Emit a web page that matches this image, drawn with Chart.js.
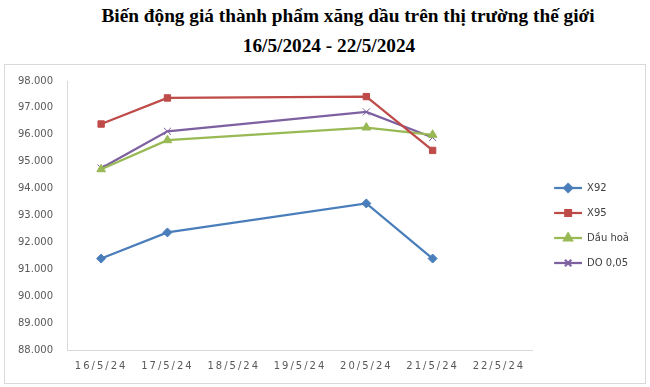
<!DOCTYPE html>
<html>
<head>
<meta charset="utf-8">
<script src="https://cdn.jsdelivr.net/npm/chart.js@4/dist/chart.umd.min.js"></script>
<style>
    html, body { margin: 0; padding: 0; background: #fff; }
    #wrap { position: relative; width: 650px; height: 387px; }
    #frame { position: absolute; left: 4px; top: 64px; width: 640px; height: 318px; border: 1px solid #d9d9d9; }
    .title { position: absolute; left: 0; width: 650px; font-family: "Liberation Serif", serif; font-weight: bold;
             font-size: 19.3px; color: #000; white-space: nowrap; line-height: 1; }
    #t1 { top: 6px; text-align: center; padding-left: 46px; box-sizing: border-box; }
    #t2 { top: 36px; text-align: center; padding-left: 8px; box-sizing: border-box; }
    canvas { position: absolute; left: 0; top: 0; }
</style>
</head>
<body>
<div id="wrap">
    <div id="frame"></div>
    <div class="title" id="t1">Biến động giá thành phẩm xăng dầu trên thị trường thế giới</div>
    <div class="title" id="t2">16/5/2024 - 22/5/2024</div>
    <canvas id="chart" width="650" height="387"></canvas>
</div>
<script>
// Dữ liệu
const days = ['16/5/24', '17/5/24', '18/5/24', '19/5/24', '20/5/24', '21/5/24', '22/5/24'];
const x92   = [91.40, 92.37, null, null, 93.45, 91.40, null];
const x95   = [96.40, 97.37, null, null, 97.42, 95.42, null];
const dauHoa = [94.72, 95.80, null, null, 96.27, 96.00, null];
const do005 = [94.76, 96.13, null, null, 96.85, 95.90, null];
const yMin = 88, yMax = 98, yStep = 1;

const FONT = '"DejaVu Sans", sans-serif';
const TICK_COLOR = '#595959';

// mẫu chú thích: đoạn thẳng + điểm đánh dấu (có lề trái trong suốt)
function legendIcon(color, style, r) {
    const c = document.createElement('canvas');
    c.width = 35; c.height = 12;
    const ctx = c.getContext('2d');
    ctx.strokeStyle = color;
    ctx.fillStyle = color;
    ctx.lineWidth = 2.25;
    ctx.beginPath();
    ctx.moveTo(7, 6); ctx.lineTo(35, 6);
    ctx.stroke();
    Chart.helpers.drawPoint(ctx, { pointStyle: style, radius: r, borderWidth: 1 }, 21, 6);
    return c;
}

const series = [
    { label: 'X92',     data: x92,    color: '#4a7ebb', style: 'rectRot',  r: 4.5 },
    { label: 'X95',     data: x95,    color: '#be4b48', style: 'rect',     r: 4.5 },
    { label: 'Dầu hoả', data: dauHoa, color: '#98b954', style: 'triangle', r: 5 },
    { label: 'DO 0,05', data: do005,  color: '#7d60a0', style: 'crossRot', r: 5 }
];

// nhãn trục x hơi giãn chữ như bản gốc; chú thích nhích lên vài px
const tweaks = {
    id: 'tweaks',
    afterLayout(chart) {
        const lg = chart.legend;
        if (lg && !lg._moved) {
            lg.top -= 6;
            lg.bottom -= 6;
            lg._moved = true;
        }
        const s = chart.scales.x;
        if (s._spaced) return;
        const orig = s.drawLabels.bind(s);
        s.drawLabels = function (area) {
            const ctx = this.ctx;
            const prev = ctx.letterSpacing;
            ctx.letterSpacing = '2px';
            orig(area);
            ctx.letterSpacing = prev;
        };
        s._spaced = true;
    }
};

new Chart(document.getElementById('chart'), {
    type: 'line',
    data: {
        labels: days,
        datasets: series.map(s => ({
            label: s.label,
            data: s.data,
            borderColor: s.color,
            backgroundColor: s.color,
            borderWidth: 2.25,
            pointStyle: s.style,
            pointRadius: s.r,
            pointBorderWidth: 1,
            pointBorderColor: s.color,
            pointBackgroundColor: s.color,
            spanGaps: true,
            tension: 0
        }))
    },
    options: {
        responsive: false,
        animation: false,
        layout: { padding: { left: 3, top: 81, right: 11, bottom: 5 } },
        plugins: {
            legend: {
                position: 'right',
                labels: {
                    color: '#404040',
                    font: { family: FONT, size: 10 },
                    usePointStyle: true,
                    pointStyleWidth: 35,
                    padding: 15,
                    generateLabels(chart) {
                        return series.map((s, i) => ({
                            text: s.label,
                            datasetIndex: i,
                            pointStyle: legendIcon(s.color, s.style, s.r - 0.5),
                            fillStyle: s.color,
                            strokeStyle: s.color,
                            lineWidth: 0,
                            fontColor: '#404040'
                        }));
                    }
                }
            },
            tooltip: { enabled: false }
        },
        scales: {
            x: {
                offset: true,
                grid: { display: false, drawTicks: false },
                border: { display: true, color: '#d9d9d9', width: 1 },
                ticks: { color: TICK_COLOR, font: { family: FONT, size: 10 }, padding: 10, maxRotation: 0, autoSkip: false }
            },
            y: {
                min: yMin, max: yMax,
                grid: { display: false, drawTicks: false },
                border: { display: true, color: '#d9d9d9', width: 1 },
                ticks: {
                    stepSize: yStep,
                    color: TICK_COLOR,
                    font: { family: FONT, size: 10 },
                    padding: 15,
                    callback: v => v.toFixed(3)
                }
            }
        }
    },
    plugins: [tweaks]
});
</script>
</body>
</html>
